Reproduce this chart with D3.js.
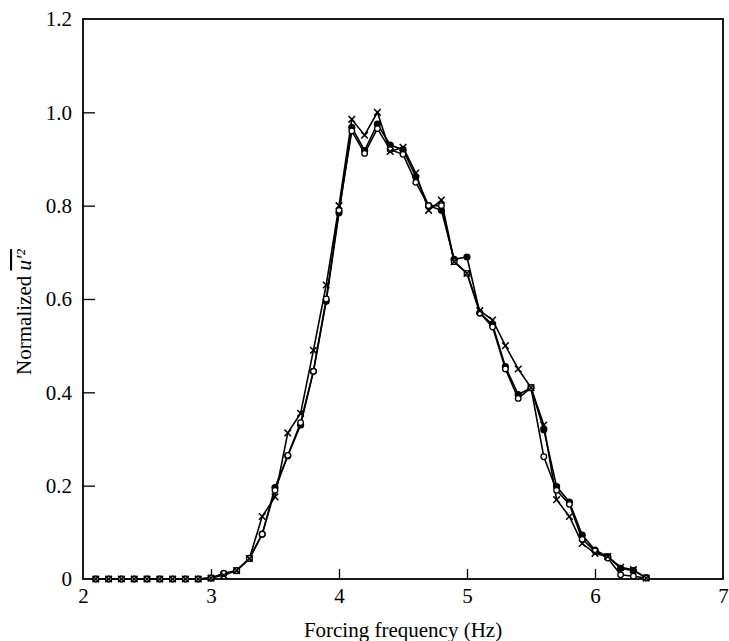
<!DOCTYPE html>
<html><head><meta charset="utf-8">
<script src="https://cdn.jsdelivr.net/npm/d3@7"></script>
<style>body{margin:0;background:#fff}svg{display:block}</style>
</head><body><svg id="c" width="729" height="641"></svg>
<script>
const freq = [2.1,2.2,2.3,2.4,2.5,2.6,2.7,2.8,2.9,3.0,3.1,3.2,3.3,3.4,3.5,3.6,3.7,3.8,3.9,4.0,4.1,4.2,4.3,4.4,4.5,4.6,4.7,4.8,4.9,5.0,5.1,5.2,5.3,5.4,5.5,5.6,5.7,5.8,5.9,6.0,6.1,6.2,6.3,6.4];
const filledSeries = [0,0,0,0,0,0,0,0,0,0.002,0.012,0.018,0.044,0.096,0.196,0.264,0.33,0.445,0.595,0.785,0.968,0.918,0.975,0.93,0.92,0.862,0.80,0.79,0.685,0.69,0.57,0.545,0.455,0.395,0.41,0.32,0.198,0.165,0.094,0.062,0.048,0.023,0.018,0.003];
const openSeries = [0,0,0,0,0,0,0,0,0,0.002,0.012,0.018,0.044,0.096,0.19,0.265,0.335,0.445,0.60,0.79,0.96,0.912,0.965,0.92,0.91,0.85,0.80,0.80,0.68,0.655,0.57,0.54,0.45,0.387,0.41,0.262,0.19,0.16,0.085,0.06,0.045,0.009,0.006,0.002];
const crossSeries = [0,0,0,0,0,0,0,0,0,0.002,0.008,0.018,0.044,0.134,0.176,0.313,0.355,0.49,0.63,0.80,0.985,0.951,1.0,0.916,0.925,0.87,0.79,0.812,0.68,0.655,0.575,0.555,0.50,0.45,0.41,0.33,0.17,0.134,0.076,0.055,0.048,0.025,0.02,0.002];
const xTicks = [2,3,4,5,6,7];
const yTicks = [0,0.2,0.4,0.6,0.8,1.0,1.2];
const yTickLabels = ["0","0.2","0.4","0.6","0.8","1.0","1.2"];

const svg = d3.select("#c");
const L=83,R=723,T=19,B=579;
const x = d3.scaleLinear().domain([2,7]).range([L,R]);
const y = d3.scaleLinear().domain([0,1.2]).range([B,T]);
const font = "'Liberation Serif','Times New Roman',serif";
const fs = 21;

const xa = svg.append("g").attr("transform",`translate(0,${B})`)
  .call(d3.axisBottom(x).tickValues(xTicks).tickFormat(d3.format("d")).tickSizeInner(-10).tickSizeOuter(0).tickPadding(9));
const ya = svg.append("g").attr("transform",`translate(${L},0)`)
  .call(d3.axisLeft(y).tickValues(yTicks).tickFormat((d,i)=>yTickLabels[i]).tickSizeInner(-12).tickSizeOuter(0).tickPadding(11));
[xa,ya].forEach(g=>{
  g.select(".domain").remove();
  g.selectAll("line").attr("stroke","#000").attr("stroke-width",1.3);
  g.selectAll("text").attr("font-family",font).attr("font-size",fs).attr("fill","#000");
});
xa.selectAll(".tick").filter(d=>d===2||d===7).select("line").remove();
ya.selectAll(".tick").filter(d=>d===0||d===1.2).select("line").remove();

svg.append("rect").attr("x",L).attr("y",T).attr("width",R-L).attr("height",B-T)
  .attr("fill","none").attr("stroke","#000").attr("stroke-width",1.8);

svg.append("text").attr("x",(L+R)/2).attr("y",637).attr("text-anchor","middle")
  .attr("font-family",font).attr("font-size",fs).text("Forcing frequency (Hz)");
const yl = svg.append("text").attr("transform","translate(31,312) rotate(-90)").attr("text-anchor","middle")
  .attr("font-family",font).attr("font-size",fs);
yl.append("tspan").text("Normalized ");
yl.append("tspan").attr("font-style","italic").attr("text-decoration","overline").text("u′²");

const line = d3.line().x((d,i)=>x(freq[i])).y(d=>y(d));
[filledSeries,openSeries,crossSeries].forEach(s=>{
  svg.append("path").datum(s).attr("d",line).attr("fill","none").attr("stroke","#000").attr("stroke-width",1.6);
});
svg.append("g").selectAll("circle").data(filledSeries).join("circle")
  .attr("cx",(d,i)=>x(freq[i])).attr("cy",d=>y(d)).attr("r",3.6).attr("fill","#000");
svg.append("g").selectAll("circle").data(openSeries).join("circle")
  .attr("cx",(d,i)=>x(freq[i])).attr("cy",d=>y(d)).attr("r",2.8).attr("fill","#fff").attr("stroke","#000").attr("stroke-width",1.3);
const cg = svg.append("g");
crossSeries.forEach((d,i)=>{
  const cx=x(freq[i]), cy=y(d), s=3.3;
  cg.append("path").attr("d",`M${cx-s},${cy-s}L${cx+s},${cy+s}M${cx-s},${cy+s}L${cx+s},${cy-s}`)
    .attr("stroke","#000").attr("stroke-width",1.5);
});
</script></body></html>
